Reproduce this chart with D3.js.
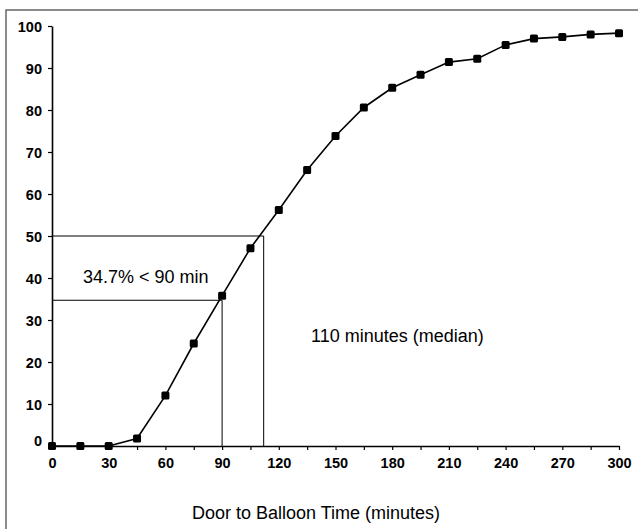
<!DOCTYPE html>
<html><head><meta charset="utf-8">
<script src="https://cdn.jsdelivr.net/npm/d3@7"></script>
<style>body{margin:0;background:#fff}svg{display:block}</style>
</head><body>
<script>
const minutes = [0,15,30,45,60,75,90,105,120,135,150,165,180,195,210,225,240,255,270,285,300];
const percent = [0,0,0,1.8,12.0,24.4,35.8,47.1,56.2,65.7,73.8,80.6,85.3,88.4,91.4,92.2,95.5,97.0,97.4,98.0,98.3];
const xTicks = [0,30,60,90,120,150,180,210,240,270,300];
const xMinorTicks = d3.range(0,301,15);
const yTicks = [0,10,20,30,40,50,60,70,80,90,100];
const pct90 = 34.7, median = 112;
const labels = {under90: "34.7% < 90 min", median: "110 minutes (median)", xTitle: "Door to Balloon Time (minutes)"};

const W = 638, H = 529;
const svg = d3.select("body").append("svg").attr("width", W).attr("height", H);
svg.append("rect").attr("x",6).attr("y",10).attr("width",800).attr("height",800)
  .attr("fill","none").attr("stroke","#666").attr("stroke-width",1.5);

const x = d3.scaleLinear().domain([0,300]).range([52,619]);
const y = d3.scaleLinear().domain([0,100]).range([446,26]);
const font = "'Liberation Sans', Arial, sans-serif";

// axes
const xAxis = svg.append("g").attr("transform",`translate(0,${y(0)})`)
  .call(d3.axisBottom(x).tickValues(xMinorTicks).tickSize(4).tickSizeOuter(0).tickFormat(""));
xAxis.select(".domain").attr("stroke","#000").attr("stroke-width",1.3);
xAxis.selectAll(".tick line").attr("stroke","#000").attr("stroke-width",1.2);
xAxis.selectAll(".tick").filter(d => xTicks.includes(d)).append("text")
  .attr("y",22).attr("text-anchor","middle").attr("fill","#000")
  .style("font-family",font).style("font-size","14.5px").style("font-weight","bold")
  .text(d => d);

const yAxis = svg.append("g").attr("transform",`translate(${x(0)},0)`)
  .call(d3.axisLeft(y).tickValues(yTicks).tickSize(4).tickSizeOuter(0).tickFormat(""));
yAxis.select(".domain").attr("stroke","#000").attr("stroke-width",1.6);
yAxis.selectAll(".tick line").attr("stroke","#000").attr("stroke-width",1.2);
yAxis.selectAll(".tick").append("text")
  .attr("x",-10).attr("dy", d => d === 0 ? "-0.05em" : "0.36em").attr("text-anchor","end").attr("fill","#000")
  .style("font-family",font).style("font-size","14.5px").style("font-weight","bold")
  .text(d => d);

// reference lines
const ref = svg.append("g").attr("stroke","#000").attr("stroke-width",1).attr("fill","none");
ref.append("path").attr("d",`M${x(0)},${y(50)}H${x(median)}V${y(0)}`);
ref.append("path").attr("d",`M${x(0)},${y(pct90)}H${x(90)}V${y(0)}`);

// curve
const data = minutes.map((m,i)=>({m, p: percent[i]}));
svg.append("path").datum(data)
  .attr("d", d3.line().x(d=>x(d.m)).y(d=>y(d.p)))
  .attr("fill","none").attr("stroke","#000").attr("stroke-width",1.6);
svg.append("g").selectAll("rect").data(data).join("rect")
  .attr("x",d=>x(d.m)-4).attr("y",d=>y(d.p)-4).attr("width",8).attr("height",8)
  .attr("rx",1.5).attr("fill","#000");

// annotations
svg.append("text").attr("x",83).attr("y",283).style("font-family",font).style("font-size","18px")
  .text(labels.under90);
svg.append("text").attr("x",311).attr("y",342).style("font-family",font).style("font-size","18px")
  .text(labels.median);
svg.append("text").attr("x",316).attr("y",519).attr("text-anchor","middle").style("font-family",font).style("font-size","18px")
  .text(labels.xTitle);
</script>
</body></html>
